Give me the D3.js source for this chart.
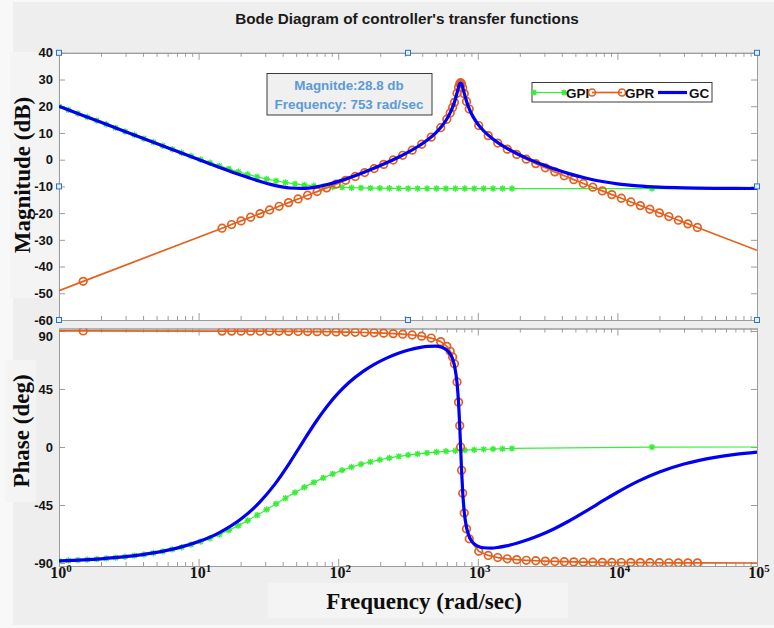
<!DOCTYPE html>
<html>
<head>
<meta charset="utf-8">
<script src="https://cdn.jsdelivr.net/npm/d3@7"></script>
<style>
  html, body { margin: 0; padding: 0; background: #f8f8f8; }
  svg { display: block; }
</style>
</head>
<body>
<svg id="chart" width="774" height="628"></svg>
<script>
// ---- Data -------------------------------------------------------------
const freqDecades = [1, 10, 100, 1000, 10000, 100000];
const decadeExponents = ["0", "1", "2", "3", "4", "5"];
const magTicks = [40, 30, 20, 10, 0, -10, -20, -30, -40, -50, -60];
const phaseTicks = [90, 45, 0, -45, -90];
const seriesNames = ["GPI", "GPR", "GC"];

// resonant peak of the controller
const peakFreq = 753;
const peakMag = 28.8;

// PI controller GPI (rad/sec, dB, deg)
const gpiFreq = [1, 1.168, 1.365, 1.595, 1.864, 2.178, 2.545, 2.973, 3.474, 4.059,
  4.742, 5.541, 6.474, 7.565, 8.839, 10.33, 12.07, 14.10, 16.48, 19.25,
  22.49, 26.28, 30.71, 35.88, 41.92, 48.98, 57.23, 66.87, 78.13, 91.29,
  106.7, 124.6, 145.6, 170.1, 198.8, 232.3, 271.4, 317.1, 370.6, 433.0,
  505.8, 591.0, 690.6, 806.9, 942.8, 1102, 1287, 1504, 1757, 17700, 100000];
const gpiMag = [20.0, 18.65, 17.30, 15.95, 14.60, 13.26, 11.91, 10.57, 9.23, 7.89,
  6.56, 5.24, 3.93, 2.62, 1.35, 0.09, -1.14, -2.32, -3.45, -4.53,
  -5.52, -6.43, -7.24, -7.94, -8.54, -9.05, -9.45, -9.78, -10.03, -10.23,
  -10.38, -10.49, -10.57, -10.64, -10.68, -10.72, -10.74, -10.76, -10.78, -10.79,
  -10.80, -10.80, -10.81, -10.81, -10.81, -10.81, -10.81, -10.81, -10.81, -10.81, -10.81];
const gpiPhase = [-88.35, -88.07, -87.75, -87.37, -86.93, -86.41, -85.81, -85.11, -84.29, -83.33,
  -82.22, -80.93, -79.44, -77.71, -75.72, -73.43, -70.83, -67.90, -64.62, -61.00,
  -57.06, -52.88, -48.51, -44.06, -39.63, -35.33, -31.25, -27.44, -23.96, -20.82,
  -18.03, -15.57, -13.41, -11.54, -9.91, -8.50, -7.29, -6.25, -5.35, -4.58,
  -3.93, -3.36, -2.88, -2.46, -2.11, -1.81, -1.55, -1.32, -1.13, -0.11, -0.02];

// resonant controller GPR
const gprFreq = [1, 1.49, 14.72, 17.22, 20.15, 23.57, 27.57, 32.25, 37.72, 44.13,
  51.62, 60.39, 70.63, 82.63, 96.65, 113.1, 132.3, 154.7, 181.0, 211.7,
  247.7, 289.7, 338.8, 396.4, 463.7, 542.4, 600, 634.5, 660, 680,
  710, 728, 742.2, peakFreq, 765, 780, 800, 830, 868.2, 1015.5,
  1188, 1390, 1626, 1901, 2224, 2602, 3044, 3561, 4165, 4872,
  5700, 6667, 7799, 9123, 10672, 12484, 14603, 17083, 19984, 23377,
  27346, 31989, 37420, 100000];
const gprMag = [-49.0, -45.53, -25.64, -24.27, -22.91, -21.54, -20.18, -18.81, -17.44, -16.07,
  -14.70, -13.32, -11.94, -10.55, -9.15, -7.73, -6.29, -4.83, -3.33, -1.77,
  -0.12, 1.63, 3.56, 5.77, 8.43, 11.96, 15.13, 17.47, 19.54, 21.45,
  24.87, 27.08, 28.42, peakMag, 28.35, 26.95, 24.72, 21.78, 18.95, 12.77,
  9.00, 6.21, 3.94, 1.97, 0.19, -1.47, -3.05, -4.56, -6.03, -7.47,
  -8.89, -10.29, -11.68, -13.07, -14.44, -15.82, -17.19, -18.56, -19.92, -21.29,
  -22.65, -24.02, -25.38, -33.92];
const gprPhase = [89.99, 89.99, 89.89, 89.87, 89.85, 89.83, 89.80, 89.76, 89.72, 89.67,
  89.62, 89.55, 89.47, 89.38, 89.27, 89.14, 88.99, 88.81, 88.58, 88.30,
  87.95, 87.49, 86.86, 85.95, 84.49, 81.72, 78.02, 74.23, 69.81, 64.55,
  50.44, 34.79, 16.55, 0, -18.02, -35.94, -51.26, -63.51, -71.21, -80.90,
  -84.12, -85.74, -86.72, -87.38, -87.87, -88.24, -88.53, -88.77, -88.96, -89.12,
  -89.25, -89.36, -89.46, -89.54, -89.61, -89.66, -89.71, -89.75, -89.79, -89.82,
  -89.85, -89.87, -89.89, -89.96];

// combined controller GC = GPI + GPR
const gcFreq = [1, 1.5, 2, 3, 5, 7, 10, 14, 20, 27,
  35, 45, 55, 70, 85, 100, 120, 150, 180, 220,
  270, 320, 380, 440, 500, 550, 600, 640, 680, 710,
  728, 742.2, peakFreq, 765, 780, 800, 830, 870, 920, 1000,
  1100, 1250, 1400, 1600, 1900, 2300, 2800, 3500, 4500, 6000,
  8000, 10000, 14000, 20000, 30000, 50000, 70000, 100000];
const gcMag = [20.00, 16.48, 13.98, 10.46, 6.03, 3.13, 0.06, -2.80, -5.73, -8.00,
  -9.62, -10.59, -10.76, -10.18, -9.20, -8.12, -6.73, -4.85, -3.19, -1.24,
  0.92, 2.91, 5.21, 7.54, 10.05, 12.41, 15.21, 17.97, 21.53, 24.95,
  27.16, 28.51, peakMag, 28.44, 27.05, 24.81, 21.88, 18.94, 16.30, 13.35,
  10.82, 8.20, 6.30, 4.41, 2.32, 0.30, -1.54, -3.40, -5.21, -6.93,
  -8.26, -9.03, -9.81, -10.30, -10.58, -10.73, -10.77, -10.79];
const gcPhase = [-88.35, -87.52, -86.70, -85.05, -81.73, -78.41, -73.37, -66.57, -56.10, -43.58,
  -29.19, -12.09, 2.87, 20.38, 32.83, 41.76, 50.18, 58.47, 63.89, 68.73,
  72.63, 75.18, 77.10, 78.11, 78.21, 77.40, 75.18, 71.40, 63.28, 49.69,
  34.35, 16.35, -0.03, -17.85, -35.54, -50.55, -62.35, -69.71, -74.01, -76.92,
  -78.16, -78.36, -77.82, -76.68, -74.67, -71.82, -68.28, -63.56, -57.39, -49.53,
  -41.30, -35.10, -26.65, -19.36, -13.18, -8.00, -5.73, -4.02];

// ---- Layout -----------------------------------------------------------
const W = 774, H = 628;
const xL = 59, xR = 757;
const magTop = 52.8, magBot = 320;
const phTop = 328.5, phBot = 566;

const COLORS = { GPI: "#38ef38", GPR: "#e4601e", GC: "#0000f5" };
const AXIS = "#9c9c9c";
const SANS = "'Liberation Sans', Arial, Helvetica, sans-serif";
const SERIF = "'Liberation Serif', 'Times New Roman', Times, serif";

const x = d3.scaleLog().domain([1, 1e5]).range([xL, xR]);
const yMag = d3.scaleLinear().domain([-60, 40]).range([magBot, magTop]);
const yPh = d3.scaleLinear().domain([-92.3, 91.9]).range([phBot, phTop]);

const svg = d3.select("#chart");

// figure background and label backdrops
svg.append("rect").attr("width", W).attr("height", H).attr("fill", "#f8f8f8");
svg.append("rect").attr("x", 13).attr("y", 2).attr("width", W - 13).attr("height", 623)
  .attr("fill", "#eeeeee");
const backdrops = svg.append("g").attr("fill", "#f4f4f4");
backdrops.append("rect").attr("x", 10).attr("y", 52).attr("width", 48).attr("height", 246);
backdrops.append("rect").attr("x", 5).attr("y", 360).attr("width", 31).attr("height", 142);
backdrops.append("rect").attr("x", 268).attr("y", 583).attr("width", 300).attr("height", 35);

// title
svg.append("text")
  .attr("x", 407).attr("y", 24)
  .attr("text-anchor", "middle")
  .attr("font-family", SANS).attr("font-weight", "bold").attr("font-size", 15.3)
  .attr("fill", "#1a1a1a")
  .text("Bode Diagram of controller's transfer functions");

// clip regions for the two panels
const defs = svg.append("defs");
defs.append("clipPath").attr("id", "clipMag").append("rect")
  .attr("x", xL).attr("y", magTop).attr("width", xR - xL).attr("height", magBot - magTop);
defs.append("clipPath").attr("id", "clipPh").append("rect")
  .attr("x", xL).attr("y", phTop).attr("width", xR - xL).attr("height", phBot - phTop);

const minorFreq = x.ticks().filter(f => !freqDecades.includes(f));

function drawPanel(yScale, top, bottom, ticks, topLabelShift) {
  svg.append("rect")
    .attr("x", xL).attr("y", top).attr("width", xR - xL).attr("height", bottom - top)
    .attr("fill", "#ffffff");

  const style = g => {
    g.selectAll(".domain").attr("stroke", AXIS);
    g.selectAll(".tick line").attr("stroke", AXIS);
  };

  // left axis with labels, ticks inward
  const left = svg.append("g").attr("transform", `translate(${xL},0)`)
    .call(d3.axisLeft(yScale).tickValues(ticks).tickSizeInner(-6).tickSizeOuter(0)
      .tickPadding(6).tickFormat(d => String(d)));
  style(left);
  left.selectAll("text")
    .attr("font-family", SANS).attr("font-weight", "bold").attr("font-size", 13)
    .attr("fill", "#141414")
    .attr("y", d => (d === ticks[0] ? topLabelShift : 0));

  // right axis, ticks only
  const right = svg.append("g").attr("transform", `translate(${xR},0)`)
    .call(d3.axisRight(yScale).tickValues(ticks).tickSizeInner(-6).tickSizeOuter(0)
      .tickFormat(""));
  style(right);

  // top and bottom frequency ticks (major and minor), pointing inward
  [[top, d3.axisTop], [bottom, d3.axisBottom]].forEach(([yy, axisFn]) => {
    const gMinor = svg.append("g").attr("transform", `translate(0,${yy})`)
      .call(axisFn(x).tickValues(minorFreq).tickSizeInner(-4).tickSizeOuter(0).tickFormat(""));
    style(gMinor);
    const gMajor = svg.append("g").attr("transform", `translate(0,${yy})`)
      .call(axisFn(x).tickValues(freqDecades).tickSizeInner(-7).tickSizeOuter(0).tickFormat(""));
    style(gMajor);
  });
}

drawPanel(yMag, magTop, magBot, magTicks, 0);
drawPanel(yPh, phTop, phBot, phaseTicks, 5);

// frequency decade labels 10^n under the phase panel
const xLabels = svg.append("g")
  .attr("font-family", SERIF).attr("font-weight", "bold").attr("fill", "#141414");
freqDecades.forEach((f, i) => {
  const t = xLabels.append("text")
    .attr("x", x(f) + 2).attr("y", 578)
    .attr("text-anchor", "middle").attr("font-size", 16);
  t.append("tspan").text("10");
  t.append("tspan").attr("dy", -6).attr("font-size", 11).text(decadeExponents[i]);
});

// axis titles
svg.append("text")
  .attr("transform", "translate(30,175) rotate(-90)")
  .attr("text-anchor", "middle")
  .attr("font-family", SERIF).attr("font-weight", "bold").attr("font-size", 23)
  .attr("fill", "#0d0d0d")
  .text("Magnitude (dB)");
svg.append("text")
  .attr("transform", "translate(29,431) rotate(-90)")
  .attr("text-anchor", "middle")
  .attr("font-family", SERIF).attr("font-weight", "bold").attr("font-size", 23)
  .attr("fill", "#0d0d0d")
  .text("Phase (deg)");
svg.append("text")
  .attr("x", 424).attr("y", 609)
  .attr("text-anchor", "middle")
  .attr("font-family", SERIF).attr("font-weight", "bold").attr("font-size", 23)
  .attr("fill", "#0d0d0d")
  .text("Frequency (rad/sec)");

// ---- Series -----------------------------------------------------------
const zip = (f, v) => f.map((ff, i) => ({ f: ff, v: v[i] }));
const series = {
  GPI: { mag: zip(gpiFreq, gpiMag), ph: zip(gpiFreq, gpiPhase) },
  GPR: { mag: zip(gprFreq, gprMag), ph: zip(gprFreq, gprPhase) },
  GC:  { mag: zip(gcFreq, gcMag),   ph: zip(gcFreq, gcPhase) }
};

function starPath(s) {
  const d = s * 0.72;
  return `M${-s},0L${s},0M0,${-s}L0,${s}M${-d},${-d}L${d},${d}M${-d},${d}L${d},${-d}`;
}

function drawSeries(yScale, clipId, key) {
  const layer = svg.append("g").attr("clip-path", `url(#${clipId})`);
  const draw = (name, pts) => {
    const lineGen = d3.line().x(d => x(d.f)).y(d => yScale(d.v));
    if (name === "GC") lineGen.curve(d3.curveMonotoneX);
    layer.append("path")
      .datum(pts)
      .attr("fill", "none")
      .attr("stroke", COLORS[name])
      .attr("stroke-width", name === "GC" ? 3.2 : name === "GPR" ? 1.7 : 1.2)
      .attr("stroke-linejoin", "round")
      .attr("d", lineGen);
    if (name === "GPI") {
      layer.append("g").selectAll("path")
        .data(pts.slice(0, -1))
        .join("path")
        .attr("transform", d => `translate(${x(d.f)},${yScale(d.v)})`)
        .attr("d", starPath(3.2))
        .attr("stroke", COLORS.GPI).attr("stroke-width", 1.4).attr("fill", "none");
    } else if (name === "GPR") {
      layer.append("g").selectAll("circle")
        .data(pts.slice(1, -1))
        .join("circle")
        .attr("cx", d => x(d.f)).attr("cy", d => yScale(d.v))
        .attr("r", 3.8)
        .attr("fill", "none")
        .attr("stroke", COLORS.GPR).attr("stroke-width", 1.7);
    }
  };
  seriesNames.forEach(n => draw(n, series[n][key]));
}

drawSeries(yMag, "clipMag", "mag");
drawSeries(yPh, "clipPh", "ph");

// ---- Peak annotation ----------------------------------------------------
const note = svg.append("g");
note.append("rect")
  .attr("x", 267).attr("y", 73.5).attr("width", 165).attr("height", 41.5)
  .attr("fill", "#f0f0f0").attr("stroke", "#3a3a3a").attr("stroke-width", 1);
note.append("text")
  .attr("x", 349).attr("y", 90).attr("text-anchor", "middle")
  .attr("font-family", SANS).attr("font-weight", "bold").attr("font-size", 13.4)
  .attr("fill", "#5b9bd5")
  .text(`Magnitde:${peakMag} db`);
note.append("text")
  .attr("x", 349).attr("y", 108.5).attr("text-anchor", "middle")
  .attr("font-family", SANS).attr("font-weight", "bold").attr("font-size", 13.4)
  .attr("fill", "#5b9bd5")
  .text(`Frequency: ${peakFreq} rad/sec`);

// ---- Legend -------------------------------------------------------------
const legend = svg.append("g");
legend.append("rect")
  .attr("x", 532).attr("y", 82.5).attr("width", 180).attr("height", 19.5)
  .attr("fill", "#ffffff").attr("stroke", "#3a3a3a").attr("stroke-width", 1);
const legendItems = [
  { name: "GPI", x0: 534, x1: 564, tx: 566 },
  { name: "GPR", x0: 592, x1: 622, tx: 625 },
  { name: "GC",  x0: 658, x1: 687, tx: 689 }
];
const ly = 92.5;
legendItems.forEach(it => {
  legend.append("line")
    .attr("x1", it.x0).attr("x2", it.x1).attr("y1", ly).attr("y2", ly)
    .attr("stroke", COLORS[it.name])
    .attr("stroke-width", it.name === "GC" ? 3.2 : it.name === "GPR" ? 1.7 : 1.2);
  if (it.name === "GPI") {
    [it.x0, it.x1].forEach(px => legend.append("path")
      .attr("transform", `translate(${px},${ly})`).attr("d", starPath(3))
      .attr("stroke", COLORS.GPI).attr("stroke-width", 1.4).attr("fill", "none"));
  }
  if (it.name === "GPR") {
    [it.x0, it.x1].forEach(px => legend.append("circle")
      .attr("cx", px).attr("cy", ly).attr("r", 3.5)
      .attr("fill", "none").attr("stroke", COLORS.GPR).attr("stroke-width", 1.6));
  }
  legend.append("text")
    .attr("x", it.tx).attr("y", ly + 5)
    .attr("font-family", SANS).attr("font-weight", "bold").attr("font-size", 13.5)
    .attr("fill", "#111111")
    .text(it.name);
});

// ---- Selection handles on the magnitude axes ----------------------------
const xMid = (xL + xR) / 2, yMid = (magTop + magBot) / 2;
const handles = [[xL, magTop], [xMid, magTop], [xR, magTop], [xL, yMid], [xR, yMid],
  [xL, magBot], [xMid, magBot], [xR, magBot]];
svg.append("g").selectAll("rect")
  .data(handles)
  .join("rect")
  .attr("x", d => d[0] - 2.5).attr("y", d => d[1] - 2.5)
  .attr("width", 5).attr("height", 5)
  .attr("fill", "#e3eef9").attr("stroke", "#2f73b8").attr("stroke-width", 1);
</script>
</body>
</html>
